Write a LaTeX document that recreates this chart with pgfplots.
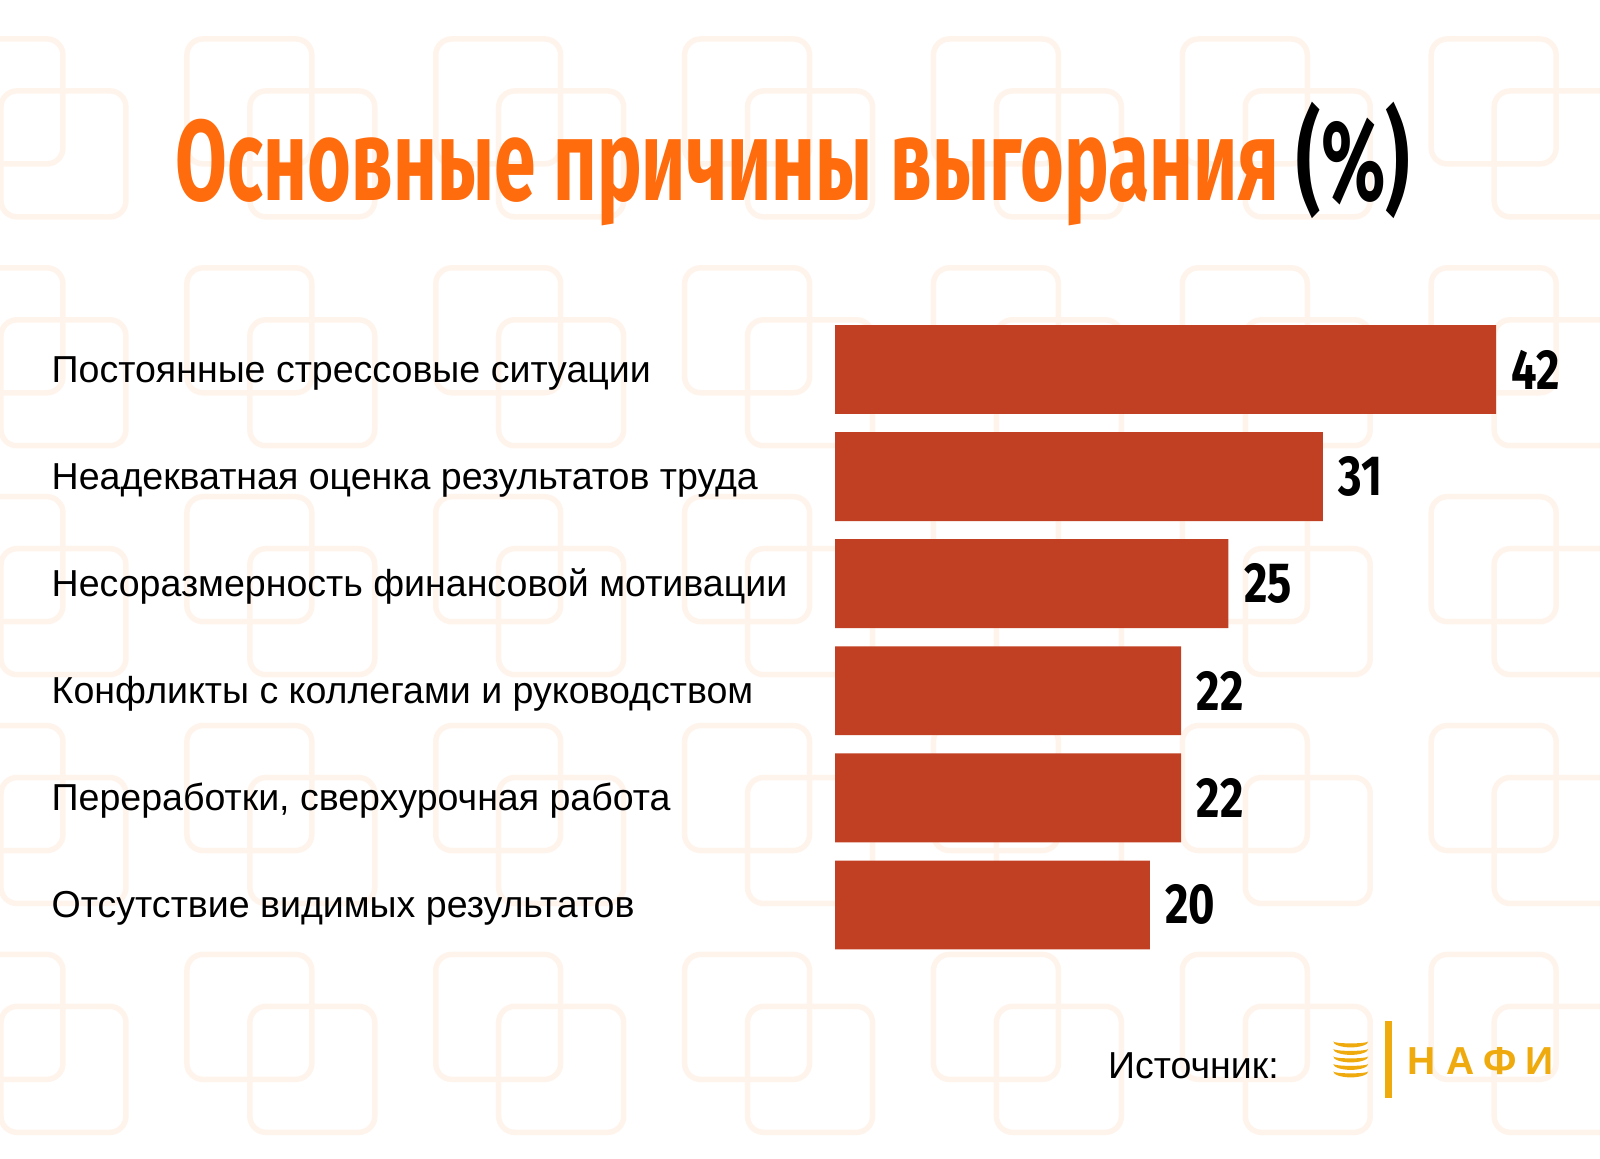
\documentclass[border=0pt]{standalone}
\usepackage{pgfplots}
\pgfplotsset{compat=1.18}
\usepackage{graphicx}
\usepackage{fontspec}
\setmainfont{Liberation Sans}
\newfontfamily\titlefont{Fira Sans}
\definecolor{titleorange}{HTML}{FF6C0E}
\definecolor{barred}{HTML}{C14023}
\definecolor{patt}{HTML}{FFF4EC}
\definecolor{nafi}{HTML}{EFAA0E}
\begin{document}
\begin{tikzpicture}
\useasboundingbox (0,0) rectangle (16cm,11.58cm);
\fill[white] (0,0) rectangle (16cm,11.58cm);
\begin{scope}
\clip (0,0) rectangle (16cm,11.58cm);
\begin{scope}[yshift=11.58cm, x=0.01cm, y=-0.01cm]
\foreach \c in {-65,184,433,682,931,1180,1429}{
  \foreach \r in {36,265,494,723,952}{
    \draw[patt, line width=0.055cm, rounded corners=0.16cm] (\c+3,\r+3) rectangle (\c+128,\r+128);
    \draw[patt, line width=0.055cm, rounded corners=0.16cm] (\c+66,\r+55) rectangle (\c+191,\r+181);
  }
}
\end{scope}
\end{scope}

% title
\node[anchor=base, inner sep=0] at (7.93cm, 9.57cm)
  {\resizebox{12.34cm}{\height}{\titlefont\bfseries\fontsize{32.6}{36}\selectfont\color{titleorange}Основные причины выгорания \color{black}(\%)}};

\begin{axis}[
  at={(8.35cm,1.995cm)}, anchor=south west,
  scale only axis, width=6.61cm, height=6.426cm,
  xmin=0, xmax=42, ymin=-0.5, ymax=5.5,
  xbar, bar width=0.83,
  hide x axis,
  axis y line*=left, y axis line style={draw=none},
  ytick={0,1,2,3,4,5},
  yticklabels={Отсутствие видимых результатов, {Переработки, сверхурочная работа}, Конфликты с коллегами и руководством, Несоразмерность финансовой мотивации, Неадекватная оценка результатов труда, Постоянные стрессовые ситуации},
  major tick length=0,
  yticklabel style={anchor=base west, inner sep=0, xshift=-7.84cm, yshift=-0.13cm, font=\fontsize{10.68}{12}\selectfont, text=black},
  clip=false,
  /pgf/number format/assume math mode=true,
  nodes near coords={\scalebox{0.8}[1]{\pgfmathprintnumber\pgfplotspointmeta}},
  nodes near coords style={anchor=west, inner sep=0, xshift=0.15cm, font=\titlefont\bfseries\fontsize{16.1}{18}\selectfont, text=black},
]
\addplot[fill=barred, draw=none] coordinates {(20,0) (22,1) (22,2) (25,3) (31,4) (42,5)};
\end{axis}

\begin{scope}[yshift=11.58cm, x=0.01cm, y=-0.01cm]
\node[anchor=base west, inner sep=0, font=\fontsize{10.68}{12}\selectfont] at (1108,1079) {Источник:};
\draw[nafi, line width=2] (1389,1022) -- (1389,1099);
\foreach \yy in {1042,1049.5,1057,1064.5,1072}{
  \fill[nafi] (1334,\yy) arc[start angle=180, end angle=0, x radius=17.5, y radius=6]
              arc[start angle=0, end angle=180, x radius=17.5, y radius=2] -- cycle;
}
\foreach \ch/\xx in {Н/1422, А/1461, Ф/1501, И/1540}{
  \node[anchor=base, inner sep=0, text=nafi, font=\bfseries\fontsize{11.1}{12}\selectfont] at (\xx,1075) {\ch};
}
\end{scope}
\end{tikzpicture}
\end{document}
